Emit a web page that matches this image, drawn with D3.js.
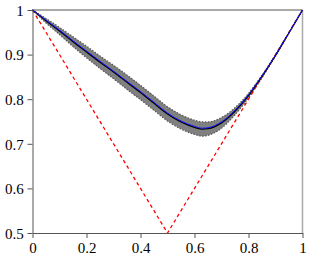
<!DOCTYPE html>
<html><head><meta charset="utf-8">
<script src="https://cdn.jsdelivr.net/npm/d3@7"></script>
<style>body{margin:0;background:#fff}svg{display:block}</style>
</head><body>
<script>
const xs      = [0, 0.05, 0.1, 0.15, 0.2, 0.25, 0.3, 0.35, 0.4, 0.45, 0.5, 0.55, 0.6, 0.63, 0.65, 0.7, 0.75, 0.8, 0.85, 0.9, 0.95, 1];
const meanY   = [1, 0.976, 0.953, 0.929, 0.906, 0.883, 0.861, 0.838, 0.815, 0.791, 0.767, 0.749, 0.737, 0.733, 0.734, 0.747, 0.773, 0.808, 0.851, 0.898, 0.949, 1];
const blueY   = [1, 0.977, 0.955, 0.931, 0.908, 0.885, 0.863, 0.840, 0.817, 0.793, 0.769, 0.751, 0.739, 0.735, 0.736, 0.749, 0.775, 0.810, 0.852, 0.899, 0.949, 1];
const spread  = [0, 0.005, 0.008, 0.011, 0.013, 0.014, 0.015, 0.016, 0.016, 0.016, 0.016, 0.016, 0.016, 0.016, 0.015, 0.012, 0.008, 0.005, 0.003, 0.0015, 0.0005, 0];
const refX    = [0, 0.5, 1];
const refY    = [1, 0.5, 1];
const xTicks  = [0, 0.2, 0.4, 0.6, 0.8, 1];
const yTicks  = [0.5, 0.6, 0.7, 0.8, 0.9, 1];

const W = 311, H = 259;
const m = {l: 32.5, r: 8.5, t: 10, b: 26};
const svg = d3.select("body").append("svg").attr("width", W).attr("height", H);
const x = d3.scaleLinear().domain([0, 1]).range([m.l, W - m.r]);
const y = d3.scaleLinear().domain([0.5, 1]).range([H - m.b, m.t]);

// frame
svg.append("line").attr("x1", x(0)).attr("x2", x(1)).attr("y1", y(1)).attr("y2", y(1)).attr("stroke", "#555").attr("stroke-width", 1);
svg.append("line").attr("x1", x(1)).attr("x2", x(1)).attr("y1", y(1)).attr("y2", y(0.5)).attr("stroke", "#aaa").attr("stroke-width", 1.5);

// band
const band = xs.map((v, i) => ({x: v, lo: meanY[i] - spread[i], hi: meanY[i] + spread[i], m: meanY[i], b: blueY[i]}));
svg.append("path").datum(band)
  .attr("d", d3.area().x(d => x(d.x)).y0(d => y(d.lo)).y1(d => y(d.hi)).curve(d3.curveMonotoneX))
  .attr("fill", "#808080");
["lo", "hi"].forEach(k => {
  svg.append("path").datum(band)
    .attr("d", d3.line().x(d => x(d.x)).y(d => y(d[k])).curve(d3.curveMonotoneX))
    .attr("fill", "none").attr("stroke", "#555").attr("stroke-width", 1.2).attr("stroke-dasharray", "1.5,1.5");
});

// reference dashed V
svg.append("path").datum(refX.map((v, i) => [v, refY[i]]))
  .attr("d", d3.line().x(d => x(d[0])).y(d => y(d[1])))
  .attr("fill", "none").attr("stroke", "#ff0000").attr("stroke-width", 1.3).attr("stroke-dasharray", "3.5,3");

// mean (black) and blue
svg.append("path").datum(band)
  .attr("d", d3.line().x(d => x(d.x)).y(d => y(d.m)).curve(d3.curveMonotoneX))
  .attr("fill", "none").attr("stroke", "#000").attr("stroke-width", 1.3);
svg.append("path").datum(band)
  .attr("d", d3.line().x(d => x(d.x)).y(d => y(d.b)).curve(d3.curveMonotoneX))
  .attr("fill", "none").attr("stroke", "#1010ff").attr("stroke-width", 1);

// axes
const fmt = d => d3.format("~g")(d);
const xa = svg.append("g").attr("transform", `translate(0,${y(0.5)})`)
  .call(d3.axisBottom(x).tickValues(xTicks).tickFormat(fmt).tickSize(5).tickSizeOuter(0));
const ya = svg.append("g").attr("transform", `translate(${x(0)},0)`)
  .call(d3.axisLeft(y).tickValues(yTicks).tickFormat(fmt).tickSize(5).tickSizeOuter(0));
[xa, ya].forEach(g => {
  g.attr("font-family", "Liberation Serif").attr("font-size", 15);
  g.select(".domain").attr("stroke", "#555");
  g.selectAll(".tick line").attr("stroke", "#555");
  g.selectAll("text").attr("fill", "#000");
});
xa.selectAll("text").attr("dy", "0.8em");
ya.selectAll("text").attr("dx", "-0.05em").attr("dy", "0.35em");
</script>
</body></html>
